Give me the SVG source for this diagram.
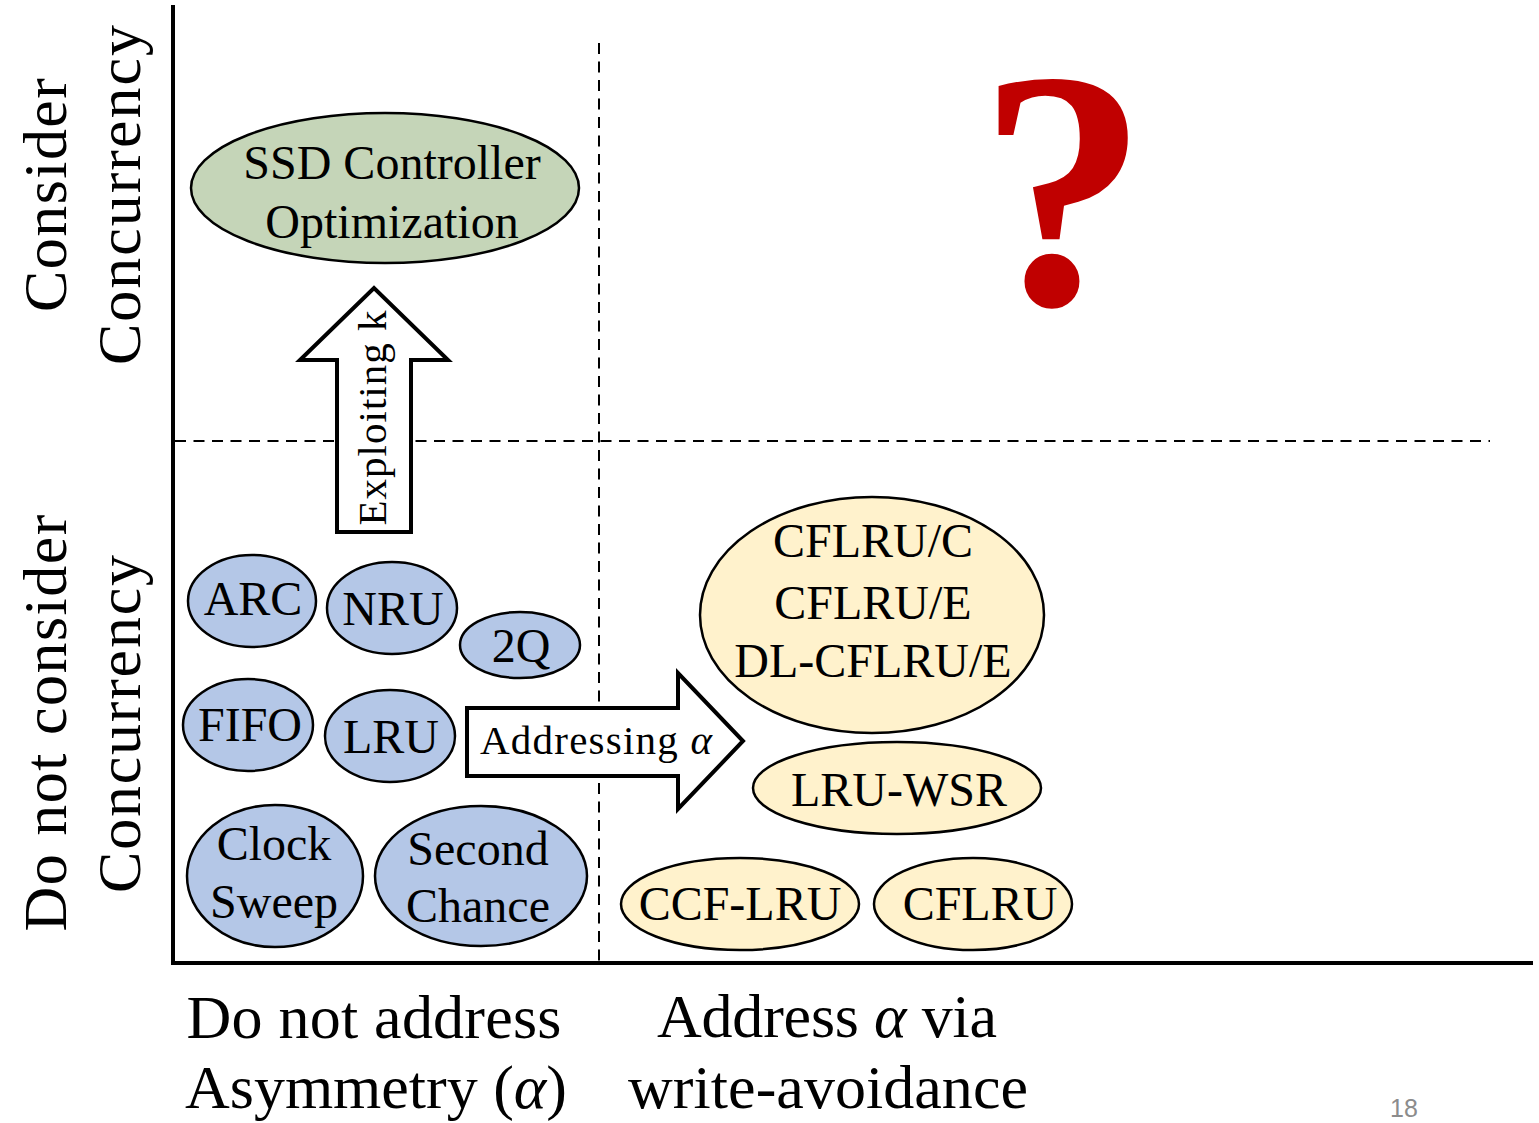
<svg xmlns="http://www.w3.org/2000/svg" width="1539" height="1123" viewBox="0 0 1539 1123">
  <style>
    text { font-family: "Liberation Serif", "Times New Roman", serif; fill: #000; }
    .node { font-size: 48px; text-anchor: middle; }
    .blue { fill: #b4c7e7; stroke: #000; stroke-width: 2.5; }
    .yellow { fill: #fff2cc; stroke: #000; stroke-width: 2.5; }
    .green { fill: #c5d5b8; stroke: #000; stroke-width: 2.5; }
    .axis { stroke: #000; stroke-width: 4; fill: none; }
    .grid { stroke: #000; stroke-width: 2; stroke-dasharray: 11 7.5; fill: none; }
    .bigarrow { fill: #fff; stroke: #000; stroke-width: 4; stroke-linejoin: miter; }
    .label { font-size: 62px; }
    .arrowtext { font-size: 41px; }
    .greek { font-style: italic; }
  </style>

  <rect width="1539" height="1123" fill="#fff"/>

  <!-- quadrant separators -->
  <g id="grid">
    <line class="grid" x1="599" y1="43" x2="599" y2="962"/>
    <line class="grid" x1="175" y1="441" x2="1490" y2="441"/>
  </g>

  <!-- axes -->
  <g id="axes">
    <line class="axis" x1="173" y1="5" x2="173" y2="965"/>
    <line class="axis" x1="171" y1="963" x2="1533" y2="963"/>
  </g>

  <!-- vertical axis labels -->
  <g id="y-labels" class="label">
    <text transform="translate(66,195) rotate(-90)" text-anchor="middle" textLength="234">Consider</text>
    <text transform="translate(140,195) rotate(-90)" text-anchor="middle" textLength="340">Concurrency</text>
    <text transform="translate(66,723) rotate(-90)" text-anchor="middle" textLength="417">Do not consider</text>
    <text transform="translate(140,724) rotate(-90)" text-anchor="middle" textLength="338">Concurrency</text>
  </g>

  <!-- horizontal axis labels -->
  <g id="x-labels" class="label">
    <text x="374" y="1038" text-anchor="middle" textLength="375">Do not address</text>
    <text x="376" y="1108" text-anchor="middle" textLength="382">Asymmetry (<tspan class="greek">α</tspan>)</text>
    <text x="827" y="1037" text-anchor="middle" textLength="340">Address <tspan class="greek">α</tspan> via</text>
    <text x="828" y="1108" text-anchor="middle" textLength="400">write-avoidance</text>
  </g>

  <!-- transitions -->
  <g id="connectors">
    <g id="exploiting-k">
      <polygon class="bigarrow" points="337,532 411,532 411,360 448,360 374,288 300,360 337,360"/>
      <text class="arrowtext" transform="translate(386,418) rotate(-90)" text-anchor="middle" textLength="215">Exploiting k</text>
    </g>
    <g id="addressing-alpha">
      <polygon class="bigarrow" points="467,708 678,708 678,673 743,741 678,809 678,776 467,776"/>
      <text class="arrowtext" x="480" y="754" textLength="232">Addressing <tspan class="greek">α</tspan></text>
    </g>
  </g>

  <!-- concurrency-aware, asymmetry-unaware -->
  <g id="ssd-controller">
    <ellipse class="green" cx="385" cy="188" rx="194" ry="75"/>
    <text class="node" x="392" y="179">SSD Controller</text>
    <text class="node" x="392" y="238">Optimization</text>
  </g>

  <!-- classic policies -->
  <g id="arc">
    <ellipse class="blue" cx="252" cy="601" rx="64" ry="46"/>
    <text class="node" x="253" y="615">ARC</text>
  </g>
  <g id="nru">
    <ellipse class="blue" cx="392" cy="608" rx="65" ry="46"/>
    <text class="node" x="393" y="625">NRU</text>
  </g>
  <g id="2q">
    <ellipse class="blue" cx="520" cy="645" rx="60" ry="33"/>
    <text class="node" x="521" y="662">2Q</text>
  </g>
  <g id="fifo">
    <ellipse class="blue" cx="248" cy="725" rx="65" ry="46"/>
    <text class="node" x="250" y="741">FIFO</text>
  </g>
  <g id="lru">
    <ellipse class="blue" cx="390" cy="736" rx="65" ry="46"/>
    <text class="node" x="391" y="753">LRU</text>
  </g>
  <g id="clock-sweep">
    <ellipse class="blue" cx="275" cy="876" rx="88" ry="71"/>
    <text class="node" x="274" y="860">Clock</text>
    <text class="node" x="274" y="918">Sweep</text>
  </g>
  <g id="second-chance">
    <ellipse class="blue" cx="481" cy="876" rx="106" ry="70"/>
    <text class="node" x="478" y="865">Second</text>
    <text class="node" x="478" y="922">Chance</text>
  </g>

  <!-- write-avoiding policies -->
  <g id="cflru-variants">
    <ellipse class="yellow" cx="872" cy="615" rx="172" ry="118"/>
    <text class="node" x="873" y="557">CFLRU/C</text>
    <text class="node" x="873" y="619">CFLRU/E</text>
    <text class="node" x="873" y="677">DL-CFLRU/E</text>
  </g>
  <g id="lru-wsr">
    <ellipse class="yellow" cx="897" cy="788" rx="144" ry="46"/>
    <text class="node" x="899" y="806">LRU-WSR</text>
  </g>
  <g id="ccf-lru">
    <ellipse class="yellow" cx="740" cy="904" rx="119" ry="46"/>
    <text class="node" x="740" y="920">CCF-LRU</text>
  </g>
  <g id="cflru">
    <ellipse class="yellow" cx="973" cy="904" rx="99" ry="46"/>
    <text class="node" x="980" y="920">CFLRU</text>
  </g>

  <!-- open quadrant -->
  <text x="1063" y="304" text-anchor="middle" font-size="340" font-weight="bold" style="fill:#c00000">?</text>

  <!-- slide number -->
  <text x="1404" y="1117" text-anchor="middle" font-size="25" style="font-family:'Liberation Sans','DejaVu Sans',sans-serif;fill:#8c8c8c">18</text>
</svg>
